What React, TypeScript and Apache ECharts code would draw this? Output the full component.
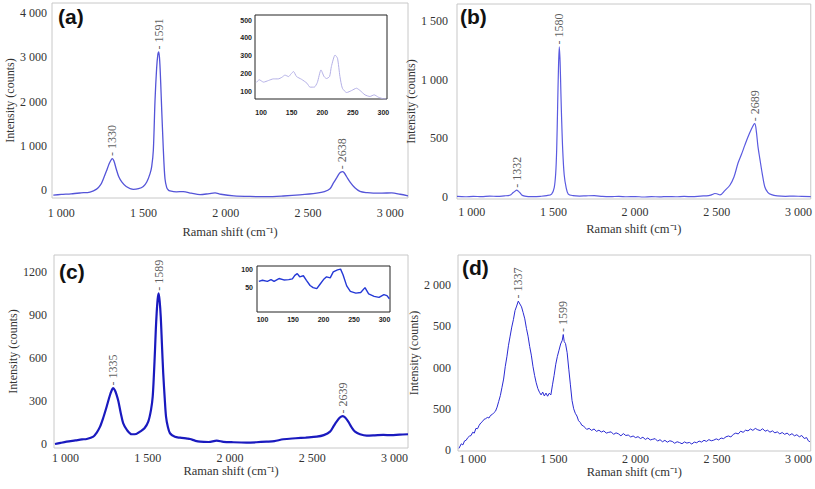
import React, { useEffect, useRef } from 'react';
import * as echarts from 'echarts';

// ---- tick labels ----
const xTickValues = [1000, 1500, 2000, 2500, 3000];
const xTickLabels = ['1 000', '1 500', '2 000', '2 500', '3 000'];
const aYTickValues = [0, 1000, 2000, 3000, 4000];
const aYTickLabels = ['0', '1 000', '2 000', '3 000', '4 000'];
const bYTickValues = [0, 500, 1000, 1500];
const bYTickLabels = ['0', '500', '1 000', '1 500'];
const cYTickValues = [0, 300, 600, 900, 1200];
const cYTickLabels = ['0', '300', '600', '900', '1200'];
const dYTickValues = [0, 500, 1000, 1500, 2000];
const dYTickLabels = ['0', '500', '000', '500', '2 000'];
const insetXTickValues = [100, 150, 200, 250, 300];
const insetXTickLabels = ['100', '150', '200', '250', '300'];
const insetAYTickValues = [100, 200, 300, 400, 500];
const insetAYTickLabels = ['100', '200', '300', '400', '500'];
const insetCYTickValues = [50, 100];
const insetCYTickLabels = ['50', '100'];

// ---- panel (a) ----
const aX = [952, 1000, 1060, 1120, 1175, 1215, 1240, 1256, 1275, 1292, 1305, 1311, 1320, 1335, 1350, 1368, 1395, 1438, 1470, 1499, 1520, 1540, 1550, 1560, 1570, 1580, 1587, 1593, 1599, 1605, 1611, 1617, 1624, 1631, 1641, 1651, 1661, 1700, 1742, 1790, 1844, 1900, 1935, 1970, 2050, 2148, 2250, 2350, 2450, 2553, 2600, 2634, 2655, 2675, 2690, 2700, 2709, 2720, 2735, 2756, 2785, 2816, 2860, 2897, 2950, 3009, 3060, 3108];
const aY = [-115, -100, -85, -65, -45, 20, 120, 250, 430, 600, 690, 710, 660, 470, 300, 185, 80, 15, 30, 80, 180, 370, 530, 900, 2000, 2750, 3050, 3120, 2900, 2400, 1800, 1250, 650, 250, 60, 0, -20, -40, -35, -70, -105, -80, -65, -95, -130, -145, -150, -135, -110, -70, -35, 30, 160, 280, 370, 405, 415, 390, 300, 180, 50, -30, -60, -70, -70, -65, -95, -130];
const aPeakX = [1311, 1593, 2709];
const aPeakY = [710, 3120, 415];
const aPeakLabels = ['1330', '1591', '2638'];

// ---- inset (a) ----
const iaX = [92, 97, 104, 112, 120, 128, 134, 139, 145, 149, 153, 158, 166, 175, 180, 187, 192, 198, 203, 207, 212, 215, 221, 225, 229, 233, 240, 248, 256, 262, 270, 278, 285, 292, 300, 305];
const iaY = [152, 167, 154, 163, 172, 172, 181, 193, 185, 200, 213, 185, 170, 148, 126, 126, 152, 222, 185, 174, 185, 241, 305, 287, 185, 120, 96, 107, 120, 107, 83, 74, 83, 70, 61, 60];

// ---- panel (b) ----
const bX = [910, 960, 1010, 1060, 1110, 1160, 1200, 1224, 1240, 1254, 1265, 1275, 1285, 1296, 1306, 1325, 1346, 1380, 1420, 1460, 1489, 1505, 1514, 1520, 1526, 1531, 1536, 1541, 1546, 1550, 1557, 1566, 1578, 1591, 1620, 1660, 1700, 1750, 1800, 1850, 1900, 1950, 2000, 2050, 2100, 2150, 2200, 2250, 2300, 2350, 2400, 2450, 2470, 2488, 2500, 2520, 2549, 2580, 2605, 2630, 2650, 2671, 2690, 2712, 2725, 2733, 2742, 2752, 2763, 2778, 2794, 2812, 2835, 2870, 2920, 2970, 3020, 3075];
const bY = [5, 2, 6, 3, 8, 5, 10, 12, 20, 38, 50, 58, 50, 35, 18, 8, 4, 3, 6, 12, 25, 80, 200, 400, 780, 1100, 1280, 1150, 880, 680, 400, 190, 80, 25, 12, 8, 10, 12, 5, 3, 6, 2, 4, 0, 3, 1, 4, 2, 5, 3, 8, 12, 20, 30, 28, 18, 55, 100, 170, 290, 360, 440, 510, 580, 615, 625, 560, 430, 330, 200, 85, 40, 20, 10, 6, 8, 5, 4];
const bPeakX = [1275, 1536, 2733];
const bPeakY = [58, 1280, 625];
const bPeakLabels = ['1332', '1580', '2689'];

// ---- panel (c) ----
const cX = [936, 970, 1007, 1060, 1100, 1129, 1169, 1190, 1210, 1230, 1250, 1270, 1283, 1290, 1300, 1310, 1321, 1336, 1351, 1375, 1402, 1430, 1453, 1480, 1503, 1520, 1530, 1538, 1544, 1549, 1554, 1560, 1566, 1572, 1579, 1586, 1594, 1603, 1611, 1622, 1635, 1665, 1696, 1740, 1757, 1790, 1818, 1870, 1919, 1960, 2020, 2100, 2160, 2223, 2270, 2324, 2400, 2460, 2527, 2570, 2608, 2630, 2648, 2668, 2685, 2700, 2719, 2740, 2760, 2790, 2831, 2880, 2932, 2980, 3030, 3082];
const cY = [0, 8, 16, 25, 32, 35, 51, 80, 121, 185, 260, 340, 380, 390, 375, 345, 300, 215, 144, 95, 68, 70, 86, 110, 156, 240, 330, 500, 656, 800, 912, 1010, 1052, 1000, 888, 700, 493, 320, 191, 120, 75, 50, 44, 38, 35, 22, 16, 14, 23, 15, 12, 10, 12, 16, 20, 33, 40, 45, 51, 62, 86, 125, 156, 185, 195, 185, 156, 115, 86, 68, 58, 60, 63, 62, 66, 68];
const cPeakX = [1290, 1566, 2685];
const cPeakY = [390, 1052, 195];
const cPeakLabels = ['1335', '1589', '2639'];

// ---- inset (c) ----
const icX = [94, 100, 108, 114, 119, 127, 135, 143, 149, 153, 157, 161, 167, 172, 178, 183, 189, 194, 200, 205, 211, 216, 223, 228, 232, 238, 244, 253, 261, 268, 274, 283, 291, 299, 304, 308];
const icY = [67, 70, 67, 72, 67, 75, 71, 72, 74, 84, 89, 80, 83, 70, 55, 49, 46, 58, 72, 80, 77, 94, 100, 102, 86, 54, 38, 33, 35, 49, 31, 24, 21, 29, 26, 17];

// ---- panel (d) ----
const dX = [916, 930, 940, 950, 960, 970, 980, 990, 1000, 1010, 1020, 1030, 1040, 1050, 1060, 1070, 1080, 1090, 1100, 1110, 1120, 1130, 1140, 1150, 1160, 1170, 1180, 1190, 1200, 1210, 1220, 1230, 1240, 1250, 1260, 1270, 1280, 1290, 1300, 1310, 1320, 1330, 1340, 1350, 1360, 1370, 1380, 1390, 1400, 1410, 1420, 1430, 1440, 1450, 1460, 1470, 1480, 1490, 1500, 1510, 1520, 1530, 1540, 1550, 1556, 1562, 1570, 1580, 1590, 1600, 1610, 1620, 1630, 1640, 1650, 1660, 1670, 1680, 1690, 1700, 1715, 1730, 1745, 1760, 1775, 1790, 1805, 1820, 1835, 1850, 1865, 1880, 1895, 1910, 1925, 1940, 1955, 1970, 1985, 2000, 2015, 2030, 2045, 2060, 2075, 2090, 2105, 2120, 2135, 2150, 2165, 2180, 2195, 2210, 2225, 2240, 2255, 2270, 2285, 2300, 2315, 2330, 2345, 2360, 2375, 2390, 2405, 2420, 2435, 2450, 2465, 2480, 2495, 2510, 2525, 2540, 2555, 2570, 2585, 2600, 2615, 2630, 2645, 2660, 2675, 2690, 2705, 2720, 2735, 2750, 2765, 2780, 2795, 2810, 2825, 2840, 2855, 2870, 2885, 2900, 2915, 2930, 2945, 2960, 2975, 2990, 3005, 3020, 3035, 3050, 3060, 3070];
const dY = [20, 75, 62, 110, 118, 150, 168, 175, 215, 205, 262, 258, 300, 328, 345, 372, 380, 395, 388, 420, 430, 452, 470, 520, 590, 660, 760, 860, 1010, 1130, 1270, 1380, 1490, 1580, 1690, 1745, 1805, 1770, 1735, 1665, 1590, 1475, 1380, 1255, 1150, 1015, 905, 815, 745, 700, 668, 702, 655, 690, 652, 688, 668, 790, 905, 1040, 1135, 1210, 1285, 1330, 1400, 1315, 1290, 1180, 980, 790, 600, 500, 445, 412, 355, 335, 300, 292, 270, 250, 262, 238, 255, 226, 240, 218, 232, 205, 214, 220, 190, 208, 196, 172, 199, 176, 182, 158, 170, 150, 162, 139, 155, 128, 146, 122, 130, 138, 108, 125, 100, 117, 95, 112, 104, 82, 100, 90, 76, 98, 84, 92, 72, 96, 88, 108, 96, 118, 104, 126, 112, 120, 135, 122, 145, 138, 160, 170, 158, 190, 205, 195, 228, 214, 240, 232, 255, 238, 262, 245, 236, 258, 228, 240, 216, 232, 208, 220, 196, 212, 190, 205, 180, 198, 172, 185, 160, 176, 140, 150, 112, 100];
const dPeakX = [1280, 1556];
const dPeakY = [1805, 1400];
const dPeakLabels = ['1337', '1599'];

const SERIF = 'Liberation Serif';
const SANS = 'Liberation Sans';

function fmt(values: number[], labels: string[]) {
  return (v: number) => {
    const i = values.findIndex((t) => Math.abs(t - v) < 1e-6);
    return i >= 0 ? labels[i] : '';
  };
}

function pairs(xs: number[], ys: number[]) {
  return xs.map((x, i) => [x, ys[i]]);
}

export default function App() {
  const ref = useRef<HTMLDivElement>(null);
  useEffect(() => {
    document.body.style.margin = '0';
    const chart = echarts.init(ref.current!, null, { renderer: 'svg' });

    const grids = [
      { left: 52, top: 3, width: 356, height: 195 },
      { left: 457, top: 4, width: 354, height: 195 },
      { left: 54, top: 255, width: 354, height: 193 },
      { left: 458, top: 255, width: 353, height: 196 },
      { left: 255, top: 15, width: 132, height: 84 },
      { left: 257, top: 266, width: 133, height: 46 },
    ].map((g, i) => ({
      ...g,
      show: true,
      borderColor: i >= 4 ? '#222' : '#c8c8c8',
      borderWidth: 1,
      backgroundColor: i >= 4 ? '#fff' : 'transparent',
      z: i >= 4 ? 3 : 0,
    }));

    const mainX = (gi: number, min: number, max: number, labelMargin: number, nameGap: number) => ({
      type: 'value',
      gridIndex: gi,
      min,
      max,
      splitNumber: 4,
      axisLine: { show: false },
      axisTick: { show: false },
      splitLine: { show: false },
      axisLabel: {
        showMinLabel: false,
        showMaxLabel: false,
        margin: labelMargin,
        fontFamily: SERIF,
        fontSize: 12,
        color: '#333',
        formatter: fmt(xTickValues, xTickLabels),
      },
      name: 'Raman shift (cm⁻¹)',
      nameLocation: 'middle',
      nameGap,
      nameTextStyle: { fontFamily: SERIF, fontSize: 12.5, color: '#333' },
    });

    const mainY = (gi: number, min: number, max: number, split: number, vals: number[], labs: string[], labelMargin: number, nameGap: number) => ({
      type: 'value',
      gridIndex: gi,
      min,
      max,
      splitNumber: split,
      axisLine: { show: false },
      axisTick: { show: false },
      splitLine: { show: false },
      axisLabel: {
        showMinLabel: false,
        showMaxLabel: false,
        margin: labelMargin,
        fontFamily: SERIF,
        fontSize: 12,
        color: '#333',
        formatter: fmt(vals, labs),
      },
      name: 'Intensity (counts)',
      nameLocation: 'middle',
      nameGap,
      nameTextStyle: { fontFamily: SERIF, fontSize: 12, color: '#333' },
    });

    const insetAxis = (gi: number, min: number, max: number, split: number, vals: number[], labs: string[], margin: number) => ({
      type: 'value',
      gridIndex: gi,
      min,
      max,
      splitNumber: split,
      axisLine: { show: false },
      axisTick: { show: false },
      splitLine: { show: false },
      axisLabel: {
        showMinLabel: false,
        showMaxLabel: false,
        margin,
        fontFamily: SANS,
        fontWeight: 'bold',
        fontSize: 7,
        color: '#222',
        formatter: fmt(vals, labs),
      },
    });

    const lineSeries = (gi: number, data: number[][], color: string, width: number, smooth: number | boolean) => ({
      type: 'line',
      xAxisIndex: gi,
      yAxisIndex: gi,
      data,
      showSymbol: false,
      symbol: 'none',
      smooth,
      lineStyle: { color, width },
      z: gi >= 4 ? 4 : 2,
      silent: true,
    });

    const peakSeries = (gi: number, xs: number[], ys: number[], labels: string[]) => ({
      type: 'scatter',
      xAxisIndex: gi,
      yAxisIndex: gi,
      data: pairs(xs, ys),
      symbolSize: 1,
      itemStyle: { color: 'rgba(0,0,0,0)' },
      silent: true,
      z: 5,
      label: {
        show: true,
        position: 'top',
        distance: 2,
        rotate: 90,
        align: 'left',
        verticalAlign: 'middle',
        fontFamily: SERIF,
        fontSize: 12,
        color: '#333',
        formatter: (p: any) => '- ' + labels[p.dataIndex],
      },
    });

    const letter = (text: string, x: number, y: number) => ({
      type: 'text',
      x,
      y,
      z: 10,
      style: { text, fontFamily: SANS, fontSize: 21, fontWeight: 'bold', fill: '#111', textVerticalAlign: 'top' },
    });

    chart.setOption({
      animation: false,
      backgroundColor: '#fff',
      textStyle: { fontFamily: SERIF },
      grid: grids,
      xAxis: [
        mainX(0, 944, 3108, 9, 27),
        mainX(1, 910, 3075, 7, 23),
        mainX(2, 930, 3082, 4, 16),
        mainX(3, 910, 3075, 2, 13),
        insetAxis(4, 90, 306, 4, insetXTickValues, insetXTickLabels, 10),
        insetAxis(5, 91, 309, 4, insetXTickValues, insetXTickLabels, 4),
      ],
      yAxis: [
        mainY(0, -180, 4226, 5, aYTickValues, aYTickLabels, 5, 34),
        mainY(1, -17, 1646, 3, bYTickValues, bYTickLabels, 9, 33),
        mainY(2, -28, 1319, 4, cYTickValues, cYTickLabels, 7, 35),
        mainY(3, -12, 2364, 5, dYTickValues, dYTickLabels, 7, 32),
        insetAxis(4, 60, 528, 5, insetAYTickValues, insetAYTickLabels, 3),
        insetAxis(5, -21, 111, 3, insetCYTickValues, insetCYTickLabels, 4),
      ],
      series: [
        lineSeries(0, pairs(aX, aY), '#5454d8', 1.3, 0.3),
        lineSeries(1, pairs(bX, bY), '#5a5ae0', 1.2, 0.3),
        lineSeries(2, pairs(cX, cY), '#1a1abf', 2.2, 0.3),
        lineSeries(3, pairs(dX, dY), '#2a2ad2', 1, false),
        lineSeries(4, pairs(iaX, iaY), '#b4b0e6', 1, 0.2),
        lineSeries(5, pairs(icX, icY), '#2438d6', 1.4, false),
        peakSeries(0, aPeakX, aPeakY, aPeakLabels),
        peakSeries(1, bPeakX, bPeakY, bPeakLabels),
        peakSeries(2, cPeakX, cPeakY, cPeakLabels),
        peakSeries(3, dPeakX, dPeakY, dPeakLabels),
      ],
      graphic: [
        letter('(a)', 58, 6),
        letter('(b)', 460, 6),
        letter('(c)', 59, 261),
        letter('(d)', 462, 257),
      ],
    });
    return () => chart.dispose();
  }, []);
  return <div ref={ref} style={{ width: 815, height: 489 }} />;
}
